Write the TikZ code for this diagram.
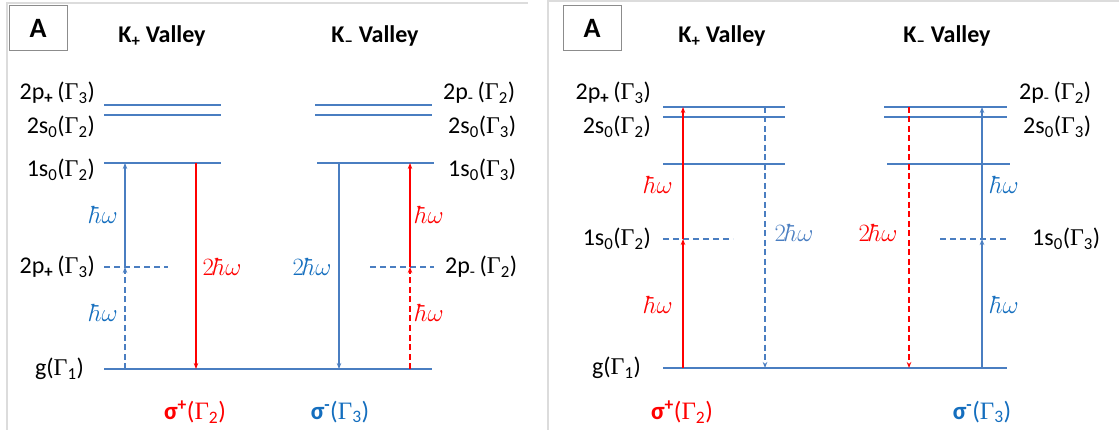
\documentclass[tikz,border=0pt]{standalone}
\usepackage{fontspec}
\setmainfont{Carlito}
\newfontfamily\symf{Liberation Serif}
\usetikzlibrary{arrows.meta}
\definecolor{lvl}{RGB}{74,126,193}
\definecolor{tblue}{RGB}{20,110,190}
\definecolor{panel}{RGB}{220,220,220}
\newcommand\Gm[1]{{\symf Γ}\textsubscript{#1}}
\tikzset{
  level/.style={draw=lvl, line width=1.9pt},
  dlevel/.style={draw=lvl, line width=1.5pt, dash pattern=on 6pt off 4pt},
  tip/.style={-{Stealth[length=6pt,width=4.5pt]}},
  barrow/.style={tip, draw=lvl, line width=1.4pt},
  rarrow/.style={tip, draw=red, line width=1.2pt},
  dashy/.style={dash pattern=on 6pt off 3.5pt},
  lab/.style={font=\fontsize{24}{26}\selectfont, inner sep=0pt},
  title/.style={font=\fontsize{24}{26}\selectfont\bfseries, inner sep=0pt},
  hw/.style={font=\fontsize{25}{27}\selectfont, inner sep=0pt},
  pol/.style={font=\fontsize{25}{27}\selectfont, inner sep=0pt},
  boxA/.style={draw=black!45, line width=0.8pt, minimum width=58pt, minimum height=45pt, font=\fontsize{28}{30}\selectfont\bfseries},
}
\begin{document}
\begin{tikzpicture}[x=1pt,y=-1pt]
\useasboundingbox (0,0) rectangle (1119,430);
% panel frames
\draw[panel, line width=1.5pt] (7,430) -- (7,3) -- (528,3);
\draw[panel, line width=1.5pt] (548,430) -- (548,1) -- (1119,1);
% ===================== left panel =====================
\node[boxA] (boxL) at (38,28) {A};
\node[title] (tKpL) at (162,36) {K\textsubscript{+} Valley};
\node[title] (tKmL) at (375,36) {K\textsubscript{–} Valley};
% levels
\draw[level] (104,105) coordinate (a2pL) -- (221,105) coordinate (a2pR);
\draw[level] (104,115) coordinate (a2sL) -- (221,115) coordinate (a2sR);
\draw[level] (104,163) coordinate (a1sL) -- (221,163) coordinate (a1sR);
\draw[level] (315,105) coordinate (b2pL) -- (432,105) coordinate (b2pR);
\draw[level] (315,115) coordinate (b2sL) -- (432,115) coordinate (b2sR);
\draw[level] (317,163) coordinate (b1sL) -- (434,163) coordinate (b1sR);
\draw[dlevel] (104,267) coordinate (avL) -- (168,267) coordinate (avR);
\draw[dlevel] (370,267) coordinate (bvL) -- (434,267) coordinate (bvR);
\draw[level] (104,369) coordinate (gL) -- (432,369) coordinate (gR);
% arrow points
\coordinate (p1g) at (125,369); \coordinate (p1v) at (125,267); \coordinate (p1t) at (125,163);
\coordinate (p2t) at (196,163); \coordinate (p2g) at (196,369);
\coordinate (p3t) at (339,163); \coordinate (p3g) at (339,369);
\coordinate (p4g) at (410,369); \coordinate (p4v) at (410,267); \coordinate (p4t) at (410,163);
\draw[barrow, dashy] (p1g) -- (p1v);
\draw[barrow] (p1v) -- (p1t);
\draw[rarrow] (p2t) -- (p2g);
\draw[barrow] (p3t) -- (p3g);
\draw[rarrow, dashy] (p4g) -- (p4v);
\draw[rarrow] (p4v) -- (p4t);
% labels
\node[lab, anchor=east] (l1) at (95,93) {2p\textsubscript{\textbf{+}}\,(\Gm{3})};
\node[lab, anchor=east] (l2) at (95,127) {2s\textsubscript{0}(\Gm{2})};
\node[lab, anchor=east] (l3) at (95,170) {1s\textsubscript{0}(\Gm{2})};
\node[lab, anchor=east] (l4) at (95,267) {2p\textsubscript{\textbf{+}}\,(\Gm{3})};
\node[lab, anchor=east] (l5) at (84,369) {g(\Gm{1})};
\node[lab, anchor=west] (r1) at (443,93) {2p\textsubscript{-}\,(\Gm{2})};
\node[lab, anchor=west] (r2) at (448,127) {2s\textsubscript{0}(\Gm{3})};
\node[lab, anchor=west] (r3) at (448,170) {1s\textsubscript{0}(\Gm{3})};
\node[lab, anchor=west] (r4) at (445,267) {2p\textsubscript{-}\,(\Gm{2})};
\node[hw, text=tblue] (h1) at (104,215) {$\hbar\omega$};
\node[hw, text=tblue] (h2) at (104,313) {$\hbar\omega$};
\node[hw, text=red] (h3) at (430,215) {$\hbar\omega$};
\node[hw, text=red] (h4) at (430,313) {$\hbar\omega$};
\node[hw, text=red] (h5) at (222,267) {$2\hbar\omega$};
\node[hw, text=tblue] (h6) at (312,267) {$2\hbar\omega$};
\node[pol, text=red] (s1) at (195,412) {\textbf{σ\textsuperscript{+}}(\Gm{2})};
\node[pol, text=tblue] (s2) at (340,412) {\textbf{σ\textsuperscript{-}}(\Gm{3})};
% ===================== right panel =====================
\node[boxA] (boxR) at (592,28) {A};
\node[title] (tKpR) at (722,36) {K\textsubscript{+} Valley};
\node[title] (tKmR) at (947,36) {K\textsubscript{–} Valley};
\draw[level] (663,107) coordinate (c2pL) -- (785,107) coordinate (c2pR);
\draw[level] (663,117) coordinate (c2sL) -- (785,117) coordinate (c2sR);
\draw[level] (663,164) coordinate (c1sL) -- (785,164) coordinate (c1sR);
\draw[level] (884,107) coordinate (d2pL) -- (1007,107) coordinate (d2pR);
\draw[level] (884,117) coordinate (d2sL) -- (1007,117) coordinate (d2sR);
\draw[level] (887,164) coordinate (d1sL) -- (1010,164) coordinate (d1sR);
\draw[dlevel] (663,239) coordinate (cvL) -- (733,239) coordinate (cvR);
\draw[dlevel] (940,239) coordinate (dvL) -- (1008,239) coordinate (dvR);
\draw[level] (663,368) coordinate (g2L) -- (1007,368) coordinate (g2R);
\coordinate (q1g) at (683,368); \coordinate (q1v) at (683,239); \coordinate (q1t) at (683,107);
\coordinate (q2t) at (765,107); \coordinate (q2g) at (765,368);
\coordinate (q3t) at (909,107); \coordinate (q3g) at (909,368);
\coordinate (q4g) at (982,368); \coordinate (q4v) at (982,239); \coordinate (q4t) at (982,107);
\draw[rarrow] (q1g) -- (q1v);
\draw[rarrow] (q1v) -- (q1t);
\draw[barrow, dashy] (q2t) -- (q2g);
\draw[rarrow, dashy] (q3t) -- (q3g);
\draw[barrow] (q4g) -- (q4v);
\draw[barrow] (q4v) -- (q4t);
\node[lab, anchor=east] (m1) at (651,93) {2p\textsubscript{\textbf{+}}\,(\Gm{3})};
\node[lab, anchor=east] (m2) at (651,127) {2s\textsubscript{0}(\Gm{2})};
\node[lab, anchor=east] (m3) at (651,239) {1s\textsubscript{0}(\Gm{2})};
\node[lab, anchor=east] (m4) at (641,368) {g(\Gm{1})};
\node[lab, anchor=west] (n1) at (1019,93) {2p\textsubscript{-}\,(\Gm{2})};
\node[lab, anchor=west] (n2) at (1023,127) {2s\textsubscript{0}(\Gm{3})};
\node[lab, anchor=west] (n3) at (1032,239) {1s\textsubscript{0}(\Gm{3})};
\node[hw, text=red] (k1) at (659,185) {$\hbar\omega$};
\node[hw, text=red] (k2) at (659,305) {$\hbar\omega$};
\node[hw, text=tblue] (k3) at (1005,185) {$\hbar\omega$};
\node[hw, text=tblue] (k4) at (1005,305) {$\hbar\omega$};
\node[hw, text=lvl] (k5) at (794,233) {$2\hbar\omega$};
\node[hw, text=red] (k6) at (878,233) {$2\hbar\omega$};
\node[pol, text=red] (t1) at (682,412) {\textbf{σ\textsuperscript{+}}(\Gm{2})};
\node[pol, text=tblue] (t2) at (982,412) {\textbf{σ\textsuperscript{-}}(\Gm{3})};
\end{tikzpicture}
\end{document}
